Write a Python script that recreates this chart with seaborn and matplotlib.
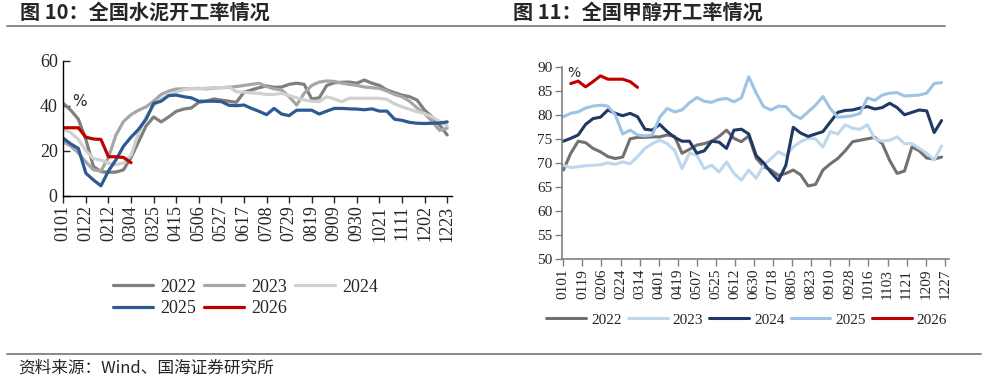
import numpy as np
import pandas as pd
import matplotlib
matplotlib.use('Agg')
import matplotlib.pyplot as plt
import seaborn as sns

sns.set_theme(style='white')
plt.rcParams['font.family'] = ['Liberation Serif', 'DejaVu Sans']

# ---------------- data: cement (weekly, %) ----------------
cement_ticks = ['0101', '0122', '0212', '0304', '0325', '0415', '0506', '0527', '0617',
                '0708', '0729', '0819', '0909', '0930', '1021', '1111', '1202', '1223']
cement_2022 = [41, 38, 34, 25, 13, 10.7, 10.4, 10.5, 11.5, 17, 24, 31, 35, 32.8, 35, 37.5,
               38.5, 39, 41.5, 42, 43, 42.5, 42, 41.5, 46, 47, 48, 48.8, 48.2, 48.3, 49.5,
               50, 49.5, 43, 43.5, 49, 50.2, 50.4, 50.5, 50, 51.4, 50, 49, 47, 45.8, 44.7,
               44, 42.5, 38, 35, 31.4, 27]
cement_2023 = [24, 22, 19, 15, 11.5, 11, 17, 27, 33, 36, 38, 39.5, 42, 45, 46.5, 47.4,
               47.5, 47.6, 47.7, 47.5, 47.8, 48, 48.2, 48.5, 49, 49.5, 50, 48.5, 47.5, 47,
               44, 40.3, 45.5, 49, 50.5, 51, 50.8, 50, 49.5, 49, 48.3, 48, 47.7, 46.5, 45,
               44, 42, 39, 36.5, 33, 29, 30]
cement_2024 = [29.6, 28, 25, 20, 16.5, 15.8, 14.5, 13.8, 14.5, 18, 28, 35, 40, 43, 44.7,
               46, 47.2, 47.7, 47.5, 47.8, 48.1, 48, 48.4, 46.2, 46, 45.7, 45.5, 45, 45,
               45.5, 44.5, 43.5, 42.5, 42, 41.8, 44, 43, 41.8, 43.3, 43.3, 43.3, 43.3, 43.3,
               42.8, 40.8, 39.5, 38.4, 37.3, 36.5, 35, 33, 31]
cement_2025 = [25.5, 23, 21, 10, 7, 4.4, 11, 16, 22, 26, 29.5, 34, 41, 42, 44.5, 44.7, 44,
               43.5, 42, 42, 42, 41.8, 40.2, 40, 40.3, 38.8, 37.5, 36, 38.8, 36.3, 35.6, 38,
               38, 38, 36.3, 37.6, 38.8, 38.8, 38.6, 38.5, 38.2, 38.6, 37.6, 37.6, 34, 33.5,
               32.6, 32.2, 32.1, 32.2, 32.3, 32.8]
cement_2026 = [30.2, 30.2, 30.2, 26, 25.2, 25, 17.3, 17.3, 17, 14.7]

# ---------------- data: methanol (weekly, %) ----------------
meth_ticks = ['0101', '0119', '0206', '0224', '0314', '0401', '0419', '0507', '0525', '0612',
              '0630', '0718', '0805', '0823', '0910', '0928', '1016', '1103', '1121', '1209',
              '1227']
meth_2022 = [68.5, 72, 74.5, 74.2, 73, 72.3, 71.3, 70.9, 71.2, 75, 75.3, 75.3, 75.4, 75.4,
             75.8, 75.5, 72, 72.8, 73.7, 74, 74.5, 75.5, 76.8, 75.1, 74.4, 75.6, 71, 69.2,
             68.5, 67.4, 67.8, 68.5, 67.5, 65.2, 65.5, 68.5, 69.8, 70.9, 72.5, 74.4, 74.7,
             75, 75.3, 74, 70.5, 67.8, 68.3, 73.3, 72.5, 71, 70.8, 71.2]
meth_2023 = [69.5, 69, 69.2, 69.4, 69.5, 69.6, 70, 69.7, 70.2, 69.8, 71.3, 73, 74, 74.7, 74,
             72.6, 68.8, 72, 71.6, 68.8, 69.5, 68.1, 70.2, 67.8, 66.4, 68.5, 66.8, 69.5,
             70.9, 72.3, 71.5, 73.3, 74.4, 75.1, 75, 73.3, 76.5, 76, 77.9, 77.2, 77, 77.9,
             75, 74.5, 74.7, 75.4, 74, 74, 73, 72, 70.6, 73.5]
meth_2024 = [74.5, 75.1, 75.8, 78, 79.2, 79.5, 81, 80.3, 79.8, 80.3, 79.6, 77, 76.8, 78,
             76.5, 75.3, 74.5, 74.5, 72, 72.5, 74.5, 74.3, 73, 76.8, 77, 76, 71.5, 70, 68,
             66.3, 69.5, 77.4, 76.2, 75.5, 76, 76.5, 78.5, 80.5, 80.9, 81, 81.4, 81.7, 81.2,
             81.5, 82.4, 81.5, 80, 80.5, 81, 80.8, 76.3, 78.8]
meth_2025 = [79.6, 80.3, 80.6, 81.4, 81.8, 82, 81.8, 80, 76, 76.8, 75.8, 75.6, 75.8, 79.5,
             81.3, 80.6, 81, 82.5, 83.6, 82.8, 82.6, 83.2, 83.4, 82.7, 83.5, 87.9, 84.5,
             81.7, 81, 81.8, 81.7, 80, 79.2, 80.6, 82, 83.8, 81.3, 79.5, 79.6, 79.8, 80.3,
             83.5, 83, 84.1, 84.5, 84.6, 83.9, 84, 84.1, 84.5, 86.5, 86.7]
meth_2026 = [86.5, 87, 85.8, 86.9, 88.1, 87.4, 87.4, 87.4, 86.9, 85.7]

years = ['2022', '2023', '2024', '2025', '2026']
cement_colors = ['#7f7f7f', '#a6a6a6', '#d0d0d0', '#2e5a94', '#c00000']
meth_colors = ['#737070', '#bdd7ee', '#1f3864', '#9dc3e6', '#c00000']

cement_series = [cement_2022, cement_2023, cement_2024, cement_2025, cement_2026]
meth_series = [meth_2022, meth_2023, meth_2024, meth_2025, meth_2026]
meth_start = [0, 0, 0, 0, 1]   # first week index of each methanol series

fig = plt.figure(figsize=(9.88, 3.78), dpi=100)
cjk = ['Noto Sans CJK SC', 'DejaVu Sans']

# headers and rules
fig.text(20 / 988, 1 - 12 / 378, '图 10：全国水泥开工率情况', family=cjk, weight='bold',
         fontsize=14.5, va='center', ha='left')
fig.text(513 / 988, 1 - 12 / 378, '图 11：全国甲醇开工率情况', family=cjk, weight='bold',
         fontsize=14.5, va='center', ha='left')
fig.add_artist(plt.Line2D([7 / 988, 945 / 988], [1 - 26 / 378] * 2, color='#808080', lw=1.3))
fig.add_artist(plt.Line2D([7 / 988, 981 / 988], [1 - 354 / 378] * 2, color='#808080', lw=1.3))
fig.text(18 / 988, 1 - 368 / 378, '资料来源：Wind、国海证券研究所', family=cjk,
         fontsize=12, va='center', ha='left')

# ---------------- left: cement ----------------
ax1 = fig.add_axes([63.3 / 988, 1 - 195.7 / 378, 388.4 / 988, 135 / 378])
for yr, vals, c in zip(years, cement_series, cement_colors):
    wk = np.arange(len(vals))
    sns.lineplot(x=wk, y=vals, color=c, lw=2.3, label=yr, ax=ax1, legend=False)
ax1.set_xlim(0, 51.6)
ax1.set_ylim(0, 60)
ax1.set_yticks([0, 20, 40, 60])
ax1.set_xticks(np.arange(0, 52, 3))
ax1.set_xticklabels(cement_ticks, rotation=90)
ax1.tick_params(axis='y', direction='in', length=5, width=1, labelsize=13, pad=4, left=True)
ax1.tick_params(axis='x', direction='out', length=5, width=1, labelsize=13, pad=2, bottom=True)
for s in ['top', 'right']:
    ax1.spines[s].set_visible(False)
for s in ['left', 'bottom']:
    ax1.spines[s].set_color('black')
    ax1.spines[s].set_linewidth(1)
ax1.set_xlabel('')
ax1.set_ylabel('')
ax1.text(2.2, 42, '%', fontsize=11, ha='center', va='center', family='DejaVu Sans')
h, l = ax1.get_legend_handles_labels()
order = [0, 3, 1, 4, 2]   # row-wise reading: 2022 2023 2024 / 2025 2026
ax1.legend([h[i] for i in order], [l[i] for i in order], ncol=3, loc='upper left',
           bbox_to_anchor=(0.11, -0.56), frameon=False, fontsize=13,
           handlelength=2.2, handletextpad=0.4, columnspacing=0.45,
           labelspacing=0.25, borderaxespad=0)

# ---------------- right: methanol ----------------
ax2 = fig.add_axes([562.3 / 988, 1 - 259 / 378, 386.7 / 988, 192.3 / 378])
for yr, vals, c, st in zip(years, meth_series, meth_colors, meth_start):
    days = (np.arange(len(vals)) + st) * 7
    sns.lineplot(x=days, y=vals, color=c, lw=2.2, label=yr, ax=ax2, legend=False)
ax2.set_xlim(-1, 364)
ax2.set_ylim(50, 90)
ax2.set_yticks(np.arange(50, 91, 5))
ax2.set_xticks(np.arange(0, 361, 18))
ax2.set_xticklabels(meth_ticks, rotation=90)
ax2.tick_params(axis='both', direction='out', length=5, width=1, color='#808080',
                labelsize=11, pad=2, left=True, bottom=True)
for s in ['top', 'right']:
    ax2.spines[s].set_visible(False)
for s in ['left', 'bottom']:
    ax2.spines[s].set_color('#808080')
    ax2.spines[s].set_linewidth(1.2)
ax2.set_xlabel('')
ax2.set_ylabel('')
ax2.text(10, 88.6, '%', fontsize=10, ha='center', va='center', family='DejaVu Sans')
h, l = ax2.get_legend_handles_labels()
ax2.legend(h, l, ncol=5, loc='center left', bbox_to_anchor=(-22 / 386.7, -0.317),
           frameon=False, fontsize=11, handlelength=2.6, handletextpad=0.33,
           columnspacing=0.4, borderaxespad=0)

fig.savefig('out.png', dpi=100)
